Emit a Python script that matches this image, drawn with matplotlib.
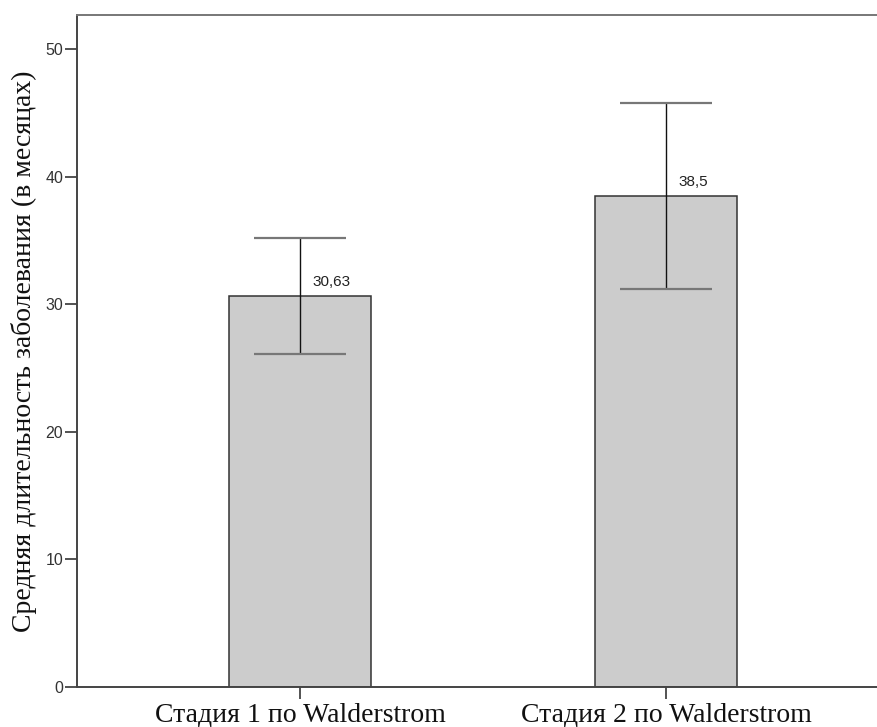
import matplotlib.pyplot as plt
import numpy as np

# Chart data
categories = ['Стадия 1 по Walderstrom', 'Стадия 2 по Walderstrom']
means = [30.63, 38.5]
ci_low = [26.07, 31.19]
ci_high = [35.16, 45.79]
value_labels = ['30,63', '38,5']
y_ticks = [0, 10, 20, 30, 40, 50]

fig = plt.figure(figsize=(8.78, 7.27), dpi=100)
ax = fig.add_axes([0.0877, 0.055, 0.9123, 0.9243])

x = np.arange(len(categories))
means_arr = np.array(means)
yerr = [means_arr - np.array(ci_low), np.array(ci_high) - means_arr]

ax.bar(x, means, width=0.39, color='#cccccc', edgecolor='#333333', linewidth=1.1, zorder=2)
ax.errorbar(x, means, yerr=yerr, fmt='none', ecolor='#111111', elinewidth=1.0,
            capsize=0, zorder=3)
# caps are lighter grey in the reference
for i in range(len(x)):
    for yv in (ci_low[i], ci_high[i]):
        ax.plot([x[i]], [yv], marker='_', markersize=65.6, markeredgewidth=1.6,
                color='#777777', zorder=4)

for i in range(len(x)):
    ax.text(x[i] + 0.033, means[i] + 0.55, value_labels[i], fontsize=11,
            family='Liberation Sans', color='#222222', ha='left', va='bottom')

ax.set_xlim(-0.609, 1.579)
ax.set_ylim(0, 52.66)
ax.set_yticks(y_ticks)
ax.set_yticklabels([str(t) for t in y_ticks], fontsize=11.5, family='Liberation Sans',
                   color='#333333')
ax.set_xticks(x)
ax.set_xticklabels(categories, fontsize=20, family='Liberation Serif', color='#111111')

ax.tick_params(axis='both', direction='out', length=8.5, width=1.3, color='#444444')
ax.tick_params(axis='y', pad=1.5)
ax.tick_params(axis='x', pad=3)

ax.set_ylabel('Средняя длительность заболевания (в месяцах)', fontsize=20,
              family='Liberation Serif', color='#111111', labelpad=6)

ax.spines['right'].set_visible(False)
ax.spines['left'].set_color('#444444')
ax.spines['bottom'].set_color('#444444')
ax.spines['top'].set_color('#777777')
for s in ax.spines.values():
    s.set_linewidth(1.4)

fig.savefig('out.png', dpi=100)
